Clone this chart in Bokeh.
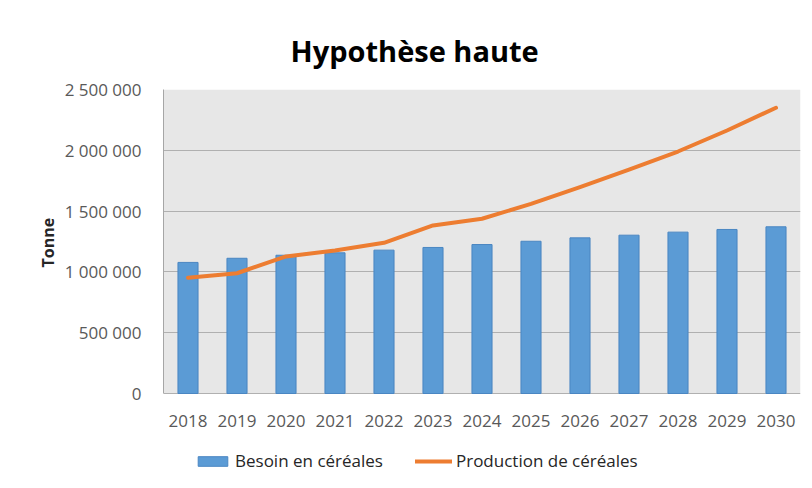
from bokeh.plotting import figure
from bokeh.models import (Range1d, FixedTicker, Legend, LegendItem, Title,
                          ColumnDataSource, BoxAnnotation)
from bokeh.core.properties import value
from bokeh.embed import file_html
from bokeh.resources import INLINE

# ---- data ----
years = [2018, 2019, 2020, 2021, 2022, 2023, 2024, 2025, 2026, 2027, 2028, 2029, 2030]
year_labels = ["2018", "2019", "2020", "2021", "2022", "2023", "2024", "2025", "2026", "2027", "2028", "2029", "2030"]
besoin = [1078000, 1112000, 1137000, 1157000, 1179000, 1201000, 1225000, 1252000, 1280000, 1302000, 1327000, 1349000, 1371000]
production = [951000, 989000, 1127000, 1176000, 1239000, 1382000, 1437000, 1559000, 1697000, 1842000, 1990000, 2163000, 2350000]
y_ticks = [0, 500000, 1000000, 1500000, 2000000, 2500000]
y_tick_labels = ["0", "500 000", "1 000 000", "1 500 000", "2 000 000", "2 500 000"]
title_text = "Hypothèse haute"
y_title = "Tonne"
series_names = ["Besoin en céréales", "Production de céréales"]

FONT = "Open Sans"
TICK_COLOR = "#595959"

# layout constants (pixels)
PLOT_PX = 304                 # pixel height of the 0 .. y_max band
BELOW_PX = 91                 # extra frame height below 0 (year labels + legend)
Y_MAX = y_ticks[-1]
UNIT = Y_MAX / PLOT_PX        # data units per pixel
Y_MIN = -BELOW_PX * UNIT
LABEL_Y = -27 * UNIT

src = ColumnDataSource(dict(x=years, besoin=besoin, production=production))
lab_src = ColumnDataSource(dict(x=years, y=[LABEL_Y] * len(years), text=year_labels))

p = figure(
    output_backend="svg", toolbar_location=None,
    width=804, height=89 + PLOT_PX + BELOW_PX,
    min_border_left=163, min_border_right=4, min_border_top=89, min_border_bottom=0,
    x_range=Range1d(2017.5, 2030.5), y_range=Range1d(Y_MIN, Y_MAX),
    x_axis_location=None,
)
p.background_fill_color = "white"
p.border_fill_color = "white"
p.outline_line_color = None

# grey plot area (0 .. y_max only)
p.add_layout(BoxAnnotation(left=2017.5, right=2030.5, bottom=0, top=Y_MAX,
                           fill_color="#e7e7e7", fill_alpha=1, line_color=None, level="image"))

bars = p.vbar(x="x", top="besoin", width=0.41, source=src,
              fill_color="#5b9bd5", line_color="#4a86c2", line_width=1)
line = p.line(x="x", y="production", source=src, line_color="#ed7d31", line_width=4,
              line_join="round", line_cap="round")

# year labels under the category axis
p.text(x="x", y="y", text="text", source=lab_src, text_align="center", text_baseline="middle",
       text_font=value(FONT), text_font_size=value("17px"), text_color=TICK_COLOR)

# y axis
p.yaxis.ticker = FixedTicker(ticks=y_ticks)
p.yaxis.major_label_overrides = {t: l for t, l in zip(y_ticks, y_tick_labels)}
p.yaxis.bounds = (0, Y_MAX)
p.yaxis.major_tick_line_color = None
p.yaxis.minor_tick_line_color = None
p.yaxis.axis_line_color = "#a6a6a6"
p.yaxis.major_label_text_font = FONT
p.yaxis.major_label_text_font_size = "17px"
p.yaxis.major_label_text_color = TICK_COLOR
p.yaxis.major_label_standoff = 16

# vertical axis title, centred on the 0 .. y_max band
p.add_layout(Title(text=y_title, align="left", offset=217, standoff=6,
                   text_font=FONT, text_font_style="bold", text_font_size="16px",
                   text_color="#262626"), "left")

p.xgrid.grid_line_color = None
p.ygrid.ticker = FixedTicker(ticks=y_ticks)
p.ygrid.grid_line_color = "#b0b0b0"
p.ygrid.grid_line_width = 1

# title
title = Title(text=title_text, align="left", offset=127, standoff=40,
              text_font=FONT, text_font_style="bold", text_font_size="29px", text_color="#000000")
p.add_layout(title, "above")

legend = Legend(items=[LegendItem(label=series_names[0], renderers=[bars]),
                       LegendItem(label=series_names[1], renderers=[line])],
                orientation="horizontal", location=(31, 12),
                background_fill_alpha=0, border_line_alpha=0,
                padding=0, margin=0, spacing=32, glyph_width=37, glyph_height=12,
                label_height=12, label_standoff=4,
                label_text_font=FONT, label_text_font_size="17px",
                label_text_color="#262626")
p.add_layout(legend)

open("out.html", "w").write(file_html(p, INLINE))
